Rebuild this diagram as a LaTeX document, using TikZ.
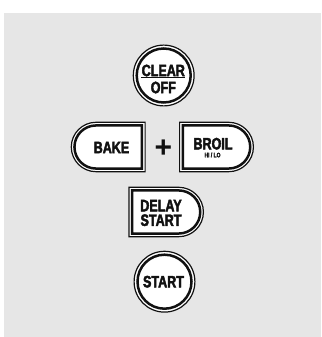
\documentclass[tikz,border=0pt]{standalone}
\usepackage{fontspec}
\newfontfamily\btnfont[FakeStretch=0.76,FakeBold=2.5]{Liberation Sans Bold}
\newfontfamily\plusfont{Liberation Sans Bold}
\definecolor{panel}{HTML}{E6E6E6}
\definecolor{ink}{HTML}{111111}
\tikzset{
  lbl/.style={inner sep=0pt, text=ink, font=\btnfont\fontsize{16.5}{14.6}\selectfont, align=center},
  small/.style={inner sep=0pt, text=ink, font=\btnfont\fontsize{6.5}{7}\selectfont},
  outerline/.style={draw=ink, line width=1.2pt, fill=white},
  innerline/.style={draw=ink, line width=2.5pt},
}
% right-rounded D shape: #1 x0, #2 x1, #3 yc, #4 r, #5 inset
\newcommand{\rdpath}[5]{(#1+#5,#3-#4+#5) -- (#2-#4,#3-#4+#5) arc[start angle=-90,end angle=90,radius=#4-#5] -- (#1+#5,#3+#4-#5) -- cycle}
\newcommand{\ldpath}[5]{(#2-#5,#3-#4+#5) -- (#1+#4,#3-#4+#5) arc[start angle=-90,end angle=-270,radius=#4-#5] -- (#2-#5,#3+#4-#5) -- cycle}
\begin{document}
\begin{tikzpicture}[x=1pt,y=1pt]
\useasboundingbox (0,0) rectangle (321,337);
\fill[panel] (4,0) rectangle (321,324);
% CLEAR/OFF
\draw[outerline] (163.7,261.5) circle[radius=30.4];
\draw[innerline] (163.7,261.5) circle[radius=27];
\node[lbl] (clear) at (163.3,266.5) {CLEAR};
\node[lbl] (off) at (163.3,249.5) {OFF};
\draw[ink, line width=1.5pt] (141,259.5) -- (185,259.5);
% BAKE
\draw[outerline] \ldpath{70.7}{145.7}{190}{25.3}{0.6};
\draw[innerline] \ldpath{70.7}{145.7}{190}{25.3}{3.75};
\node[lbl] (bake) at (111.5,189.5) {BAKE};
% plus
\node[inner sep=0pt, text=ink, font=\plusfont\fontsize{30}{30}\selectfont] (plus) at (163.5,188.5) {+};
% BROIL
\draw[outerline] \rdpath{179}{254}{190}{25.3}{0.6};
\draw[innerline] \rdpath{179}{254}{190}{25.3}{3.75};
\node[lbl] (broil) at (213,193.3) {BROIL};
\node[small] (hilo) at (212.5,182) {HI / LO};
% DELAY START
\draw[outerline] \rdpath{128.3}{204}{125}{25.3}{0.6};
\draw[innerline] \rdpath{128.3}{204}{125}{25.3}{3.75};
\node[lbl] (delay) at (161,124) {DELAY\\START};
% START
\draw[outerline] (164.5,55.3) circle[radius=30.4];
\draw[innerline] (164.5,55.3) circle[radius=27];
\node[lbl] (start) at (163.5,55.3) {START};
\end{tikzpicture}
\end{document}
